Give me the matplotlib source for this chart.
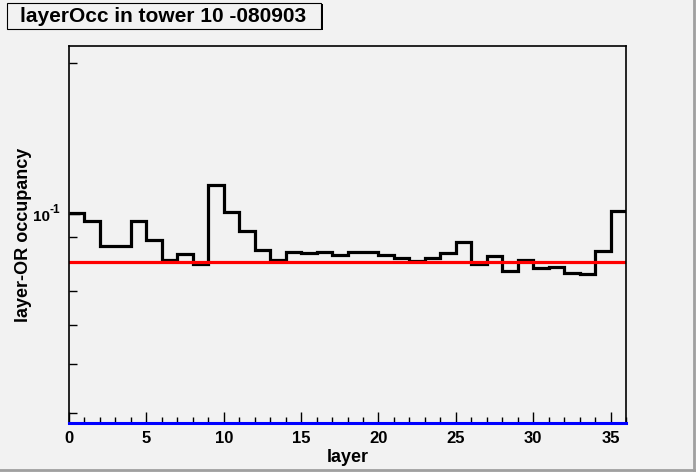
import matplotlib
matplotlib.use('Agg')
import matplotlib.pyplot as plt
from matplotlib.patches import Rectangle
from matplotlib.ticker import FixedLocator, NullFormatter

plt.rcParams['font.family'] = ['Liberation Sans', 'DejaVu Sans']
plt.rcParams['font.weight'] = 'bold'

# layer-OR occupancy per layer (36 layers)
layer_edges = list(range(37))
occupancy = [0.1003, 0.0967, 0.0861, 0.0861, 0.0967, 0.0885, 0.0807, 0.0831, 0.0794,
             0.1141, 0.1009, 0.0922, 0.0845, 0.0807, 0.0839, 0.0835, 0.0839, 0.0826,
             0.0839, 0.0839, 0.0827, 0.0817, 0.0806, 0.0817, 0.0833, 0.0878, 0.0793,
             0.0823, 0.0768, 0.0808, 0.0779, 0.0782, 0.0761, 0.0758, 0.0841, 0.1011]
ref_level = 0.0801
y_range = (0.0382, 0.2163)
title = 'layerOcc in tower 10 -080903'

bg = '#f2f2f2'
W, H = 696, 472
fig = plt.figure(figsize=(6.96, 4.72), dpi=100, facecolor=bg)
ax = fig.add_axes([69/W, 1 - 423/H, 557/W, 377/H])
ax.set_facecolor(bg)

ax.stairs(occupancy, layer_edges, baseline=None, color='black', lw=2.3)
ax.axhline(ref_level, color='red', lw=2.3)
ax.axhline(y_range[0], color='blue', lw=2.2, clip_on=False, zorder=5)

ax.set_yscale('log')
ax.set_xlim(0, 36)
ax.set_ylim(*y_range)

# ROOT-like ticks
ax.yaxis.set_major_locator(FixedLocator([0.1]))
ax.yaxis.set_minor_locator(FixedLocator([0.04, 0.05, 0.06, 0.07, 0.08, 0.09, 0.2]))
ax.yaxis.set_major_formatter(NullFormatter())
ax.yaxis.set_minor_formatter(NullFormatter())
ax.set_xticks(range(0, 36, 5))
ax.set_xticks(range(0, 37), minor=True)
ax.tick_params(axis='both', which='both', direction='in', colors='black', labelsize=12)
ax.tick_params(axis='x', which='major', length=8, width=1, pad=5.5)
ax.tick_params(axis='x', which='minor', length=4.3, width=1)
ax.tick_params(axis='y', which='major', length=8, width=1)
ax.tick_params(axis='y', which='minor', length=5.8, width=1)
for lab in ax.get_xticklabels():
    lab.set_fontweight('bold')

# 10^-1 label drawn by hand (ROOT style hyphen exponent)
ax.annotate('10', xy=(0, 0.1), xycoords=('axes fraction', 'data'), xytext=(-13.7, -2),
            textcoords='offset points', ha='right', va='center', fontsize=11, fontweight='bold')
ax.annotate('-1', xy=(0, 0.1), xycoords=('axes fraction', 'data'), xytext=(-13.7, 3),
            textcoords='offset points', ha='left', va='center', fontsize=8.5, fontweight='bold')

for side in ['top', 'right', 'left']:
    ax.spines[side].set_linewidth(1.2)
ax.spines['bottom'].set_visible(False)

ax.set_xlabel('layer', fontsize=13, fontweight='bold')
ax.set_ylabel('layer-OR occupancy', fontsize=13, fontweight='bold')
ax.xaxis.set_label_coords(0.5, -0.069)
ax.yaxis.set_label_coords(-0.066, 0.5)

# title box with shadow
fig.patches.append(Rectangle((8.5/W, 1 - 30/H), 314/W, 26/H, transform=fig.transFigure,
                             facecolor='black', edgecolor='none'))
fig.patches.append(Rectangle((7/W, 1 - 28.5/H), 314/W, 26/H, transform=fig.transFigure,
                             facecolor=bg, edgecolor='black', lw=0.8))
fig.text(20/W, 1 - 16.5/H, title, fontsize=15, fontweight='bold', ha='left', va='center')

# canvas border
fig.lines.append(plt.Line2D([694/W, 694/W], [0, 1], transform=fig.transFigure,
                            color='#a0a0a0', lw=2))
fig.lines.append(plt.Line2D([0, 1], [2/H, 2/H], transform=fig.transFigure,
                            color='#a0a0a0', lw=2))

fig.savefig('out.png', dpi=100, facecolor=bg)
